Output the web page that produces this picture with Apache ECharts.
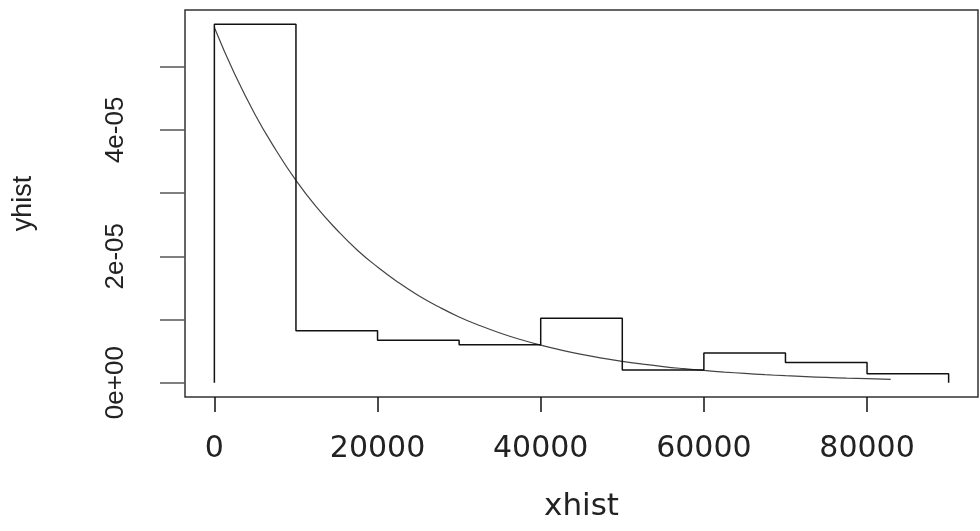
<!DOCTYPE html>
<html>
<head>
<meta charset="utf-8">
<script src="https://cdn.jsdelivr.net/npm/echarts@6/dist/echarts.min.js"></script>
<style>
  html, body { margin: 0; padding: 0; background: #fff; }
  #chart { width: 980px; height: 531px; }
</style>
</head>
<body>
<div id="chart"></div>
<script>
var dom = document.getElementById("chart");
var myChart = echarts.init(dom);

// histogram outline, R type="s" (values in units of 1e-05)
var xhist = [0, 0, 10000, 20000, 30000, 40000, 50000, 60000, 70000, 80000, 90000];
var yhist = [0, 5.67, 0.82, 0.67, 0.60, 1.02, 0.20, 0.47, 0.32, 0.14, 0];

// fitted curve (units of 1e-05)
var curveX = [0, 2500, 5000, 7500, 10000, 12500, 15000, 17500, 20000, 22500, 25000,
    27500, 30000, 32500, 35000, 37500, 40000, 42500, 45000, 47500, 50000, 52500,
    55000, 57500, 60000, 62500, 65000, 67500, 70000, 72500, 75000, 77500, 80000, 82900];
var curveY = [5.62, 4.88, 4.24, 3.69, 3.20, 2.78, 2.42, 2.10, 1.83, 1.59, 1.38,
    1.20, 1.04, 0.905, 0.786, 0.683, 0.593, 0.516, 0.448, 0.389, 0.338, 0.294,
    0.255, 0.222, 0.193, 0.168, 0.146, 0.126, 0.110, 0.096, 0.083, 0.072, 0.063, 0.052];

var xTicks = [0, 20000, 40000, 60000, 80000];
var yTicks = [0, 1e-5, 2e-5, 3e-5, 4e-5, 5e-5];
var yLabels = [0, 2e-5, 4e-5];

var E = 1e-5;
var histData = xhist.map(function (x, i) { return [x, yhist[i] * E]; });
var curveData = curveX.map(function (x, i) { return [x, curveY[i] * E]; });

// R pads the data range by 4% on each side
var yTop = 5.67 * E;
var option = {
    animation: false,
    backgroundColor: '#fff',
    grid: {
        left: 185, top: 10, right: 2, bottom: 134,
        show: true,
        borderColor: '#333',
        borderWidth: 1.5,
        backgroundColor: 'transparent',
        containLabel: false,
        outerBoundsMode: 'none'
    },
    xAxis: {
        type: 'value',
        min: -3600,
        max: 93600,
        name: 'xhist',
        nameLocation: 'middle',
        nameGap: 94,
        nameTextStyle: { fontFamily: 'DejaVu Sans', fontSize: 31, color: '#222' },
        axisLine: { show: false, onZero: false },
        splitLine: { show: false },
        axisTick: {
            show: true,
            length: 15,
            customValues: xTicks,
            lineStyle: { color: '#111', width: 1.5 }
        },
        axisLabel: {
            customValues: xTicks,
            margin: 37,
            fontFamily: 'DejaVu Sans',
            fontSize: 30,
            color: '#222',
            formatter: function (v) { return String(v); }
        }
    },
    yAxis: {
        type: 'value',
        min: -0.04 * yTop,
        max: 1.04 * yTop,
        name: 'yhist',
        nameLocation: 'middle',
        nameGap: 148,
        nameTextStyle: { fontFamily: 'Liberation Sans Narrow, Liberation Sans', fontSize: 27, color: '#222' },
        axisLine: { show: false, onZero: false },
        splitLine: { show: false },
        axisTick: {
            show: true,
            length: 25,
            customValues: yTicks,
            lineStyle: { color: '#555', width: 1.5 }
        },
        axisLabel: {
            customValues: yLabels,
            rotate: 90,
            margin: 56,
            fontFamily: 'Liberation Sans Narrow, Liberation Sans',
            fontSize: 26,
            color: '#222',
            formatter: function (v) {
                if (v === 0) return '0e+00';
                return Math.round(v / E) + 'e-05';
            }
        }
    },
    series: [
        {
            type: 'line',
            data: histData,
            step: 'end',
            showSymbol: false,
            lineStyle: { color: '#111', width: 1.5 },
            z: 3
        },
        {
            type: 'line',
            data: curveData,
            smooth: true,
            showSymbol: false,
            lineStyle: { color: '#444', width: 1.2 },
            z: 2
        }
    ]
};
myChart.setOption(option, true);
</script>
</body>
</html>
